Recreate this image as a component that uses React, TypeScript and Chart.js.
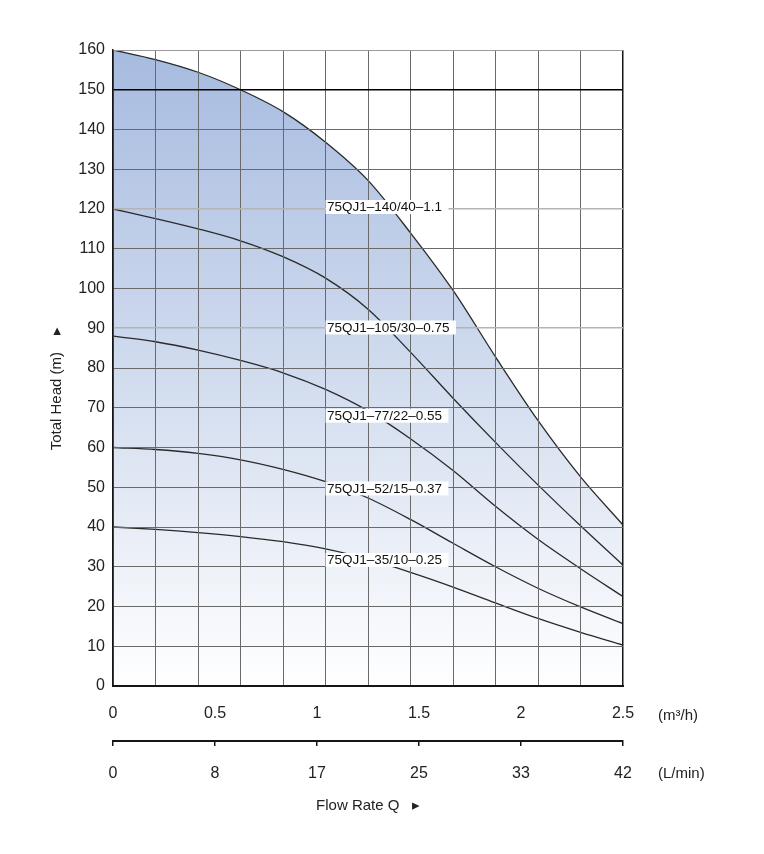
import { useEffect, useRef } from 'react';
import { Chart, registerables } from 'chart.js';

Chart.register(...registerables);

// flow points (m3/h) the curves were read at
const flowQ = [0, 0.208, 0.417, 0.625, 0.833, 1.042, 1.25, 1.458, 1.667, 1.875, 2.083, 2.292, 2.5];

// head (m) per pump model
const head_1_1 = [160, 157.6, 154.4, 150, 144.5, 136.8, 127.2, 114, 99.5, 82.8, 66.8, 52.6, 40.5];
const head_0_75 = [120, 117.6, 115, 112, 108, 102.6, 94.8, 84, 72.4, 61.3, 50.6, 40.3, 30.4];
const head_0_55 = [88, 86.6, 84.5, 81.9, 78.8, 74.6, 69.2, 62.2, 54.2, 45.2, 36.9, 29.5, 22.5];
const head_0_37 = [60, 59.5, 58.5, 56.9, 54.5, 51.4, 47.3, 41.9, 35.9, 30, 24.6, 19.9, 15.7];
const head_0_25 = [40, 39.4, 38.6, 37.6, 36.3, 34.5, 31.9, 28.6, 24.9, 20.9, 17, 13.5, 10.3];

const models = ['75QJ1–140/40–1.1', '75QJ1–105/30–0.75', '75QJ1–77/22–0.55', '75QJ1–52/15–0.37', '75QJ1–35/10–0.25'];
const series = [head_1_1, head_0_75, head_0_55, head_0_37, head_0_25];

// where each model name sits (m3/h, m)
const labelQ = 1.042;
const labelH = [120.5, 90.2, 68, 49.7, 31.7];

// axis ticks
const flowM3h = [0, 0.5, 1, 1.5, 2, 2.5];
const flowLmin = [0, 8, 17, 25, 33, 42];
const gridLmin = [0, 3.5, 7, 10.5, 14, 17.5, 21, 24.5, 28, 31.5, 35, 38.5, 42];

const FONT = '"Liberation Sans", Arial, sans-serif';

const curveLabels = {
  id: 'curveLabels',
  afterDraw(chart: any) {
    const { ctx, scales } = chart;
    ctx.save();
    ctx.font = `13.5px ${FONT}`;
    ctx.textBaseline = 'middle';
    models.forEach((name, i) => {
      const x = scales.x.getPixelForValue(labelQ);
      const y = scales.y.getPixelForValue(labelH[i]);
      const w = ctx.measureText(name).width;
      ctx.fillStyle = '#fff';
      ctx.fillRect(x, y - 7, w + 8, 14);
      ctx.fillStyle = '#111';
      ctx.fillText(name, x + 1.5, y + 0.5);
    });
    ctx.restore();
  },
};

const unitLabels = {
  id: 'unitLabels',
  afterDraw(chart: any) {
    const { ctx, scales, chartArea } = chart;
    ctx.save();
    ctx.font = `15px ${FONT}`;
    ctx.fillStyle = '#222';
    ctx.textBaseline = 'middle';
    ctx.fillText('(m³/h)', chartArea.right + 35, scales.xq.top + 30);
    ctx.fillText('(L/min)', chartArea.right + 35, scales.xl.top + 33);
    ctx.restore();
  },
};

export default function App() {
  const canvasRef = useRef<HTMLCanvasElement | null>(null);

  useEffect(() => {
    if (!canvasRef.current) return;

    const datasets = series.map((h, i) => ({
      label: models[i],
      data: h.map((v, j) => ({ x: flowQ[j], y: v })),
      borderColor: '#2a2a2a',
      borderWidth: 1.3,
      pointRadius: 0,
      cubicInterpolationMode: 'monotone' as const,
      order: i === 0 ? 10 : i,
      fill: i === 0 ? 'origin' : false,
      backgroundColor: (c: any) => {
        const { chart } = c;
        const area = chart.chartArea;
        if (!area) return '#c8d4ec';
        const g = chart.ctx.createLinearGradient(0, area.top, 0, area.bottom);
        g.addColorStop(0, '#a7bbe0');
        g.addColorStop(0.5, '#d0dbee');
        g.addColorStop(1, '#ffffff');
        return g;
      },
    }));

    const chart = new Chart(canvasRef.current, {
      type: 'line',
      data: { datasets },
      options: {
        responsive: true,
        maintainAspectRatio: false,
        animation: false,
        layout: { padding: { top: 42, right: 133, left: 0, bottom: 0 } },
        plugins: { legend: { display: false }, tooltip: { enabled: false } },
        scales: {
          x: {
            type: 'linear',
            position: 'bottom',
            weight: 0,
            min: 0,
            max: 2.5,
            afterBuildTicks: (s: any) => {
              s.ticks = gridLmin.map((v) => ({ value: (v * 2.5) / 42 }));
            },
            afterFit: (s: any) => {
              s.height = 0;
            },
            ticks: { display: false },
            grid: {
              z: 1,
              drawTicks: false,
              color: (c: any) => (c.index === gridLmin.length - 1 ? '#151515' : '#6a6a6a'),
              lineWidth: (c: any) => (c.index === gridLmin.length - 1 ? 1.5 : 1),
            },
            border: { color: '#151515', width: 2, z: 2 },
          },
          xq: {
            type: 'linear',
            position: 'bottom',
            weight: 1,
            min: 0,
            max: 2.5,
            afterBuildTicks: (s: any) => {
              s.ticks = flowM3h.map((v) => ({ value: v }));
            },
            afterFit: (s: any) => {
              s.height = 55;
            },
            grid: { display: false, drawTicks: false },
            border: { display: false },
            ticks: {
              padding: 18,
              color: '#222',
              font: { family: FONT, size: 16 },
              maxRotation: 0,
              callback: (_v: any, i: number) => String(flowM3h[i]),
            },
          },
          xl: {
            type: 'linear',
            position: 'bottom',
            weight: 2,
            min: 0,
            max: 2.5,
            afterBuildTicks: (s: any) => {
              s.ticks = flowM3h.map((v) => ({ value: v }));
            },
            afterFit: (s: any) => {
              s.height = 105;
            },
            grid: { display: true, drawOnChartArea: false, drawTicks: true, tickLength: 5, color: '#151515', lineWidth: 1.5 },
            border: { color: '#151515', width: 2 },
            ticks: {
              padding: 18,
              color: '#222',
              font: { family: FONT, size: 16 },
              maxRotation: 0,
              callback: (_v: any, i: number) => String(flowLmin[i]),
            },
            title: {
              display: true,
              text: 'Flow Rate Q   ▸',
              color: '#222',
              font: { family: FONT, size: 15 },
              padding: { top: 0, bottom: 31 },
            },
          },
          y: {
            type: 'linear',
            min: 0,
            max: 160,
            afterFit: (s: any) => {
              s.width = 105;
            },
            ticks: { stepSize: 10, padding: 8, color: '#222', font: { family: FONT, size: 16 } },
            grid: {
              z: 1,
              drawTicks: false,
              color: (c: any) => {
                const v = c.tick.value;
                if (v === 150) return '#000';
                if (v === 160) return '#9a9a9a';
                if (v === 120 || v === 90) return '#b4b4b4';
                return '#6a6a6a';
              },
              lineWidth: (c: any) => {
                const v = c.tick.value;
                if (v === 150) return 1.5;
                if (v === 120 || v === 90) return 1.6;
                return 1;
              },
            },
            border: { color: '#151515', width: 1.5, z: 2 },
            title: {
              display: true,
              text: 'Total Head (m)    ▸          ',
              color: '#222',
              font: { family: FONT, size: 15 },
              padding: { top: 40, bottom: 0 },
            },
          },
        },
      },
      plugins: [curveLabels, unitLabels],
    });

    return () => chart.destroy();
  }, []);

  return (
    <div style={{ position: 'relative', width: 748, height: 838 }}>
      <canvas ref={canvasRef} />
    </div>
  );
}
